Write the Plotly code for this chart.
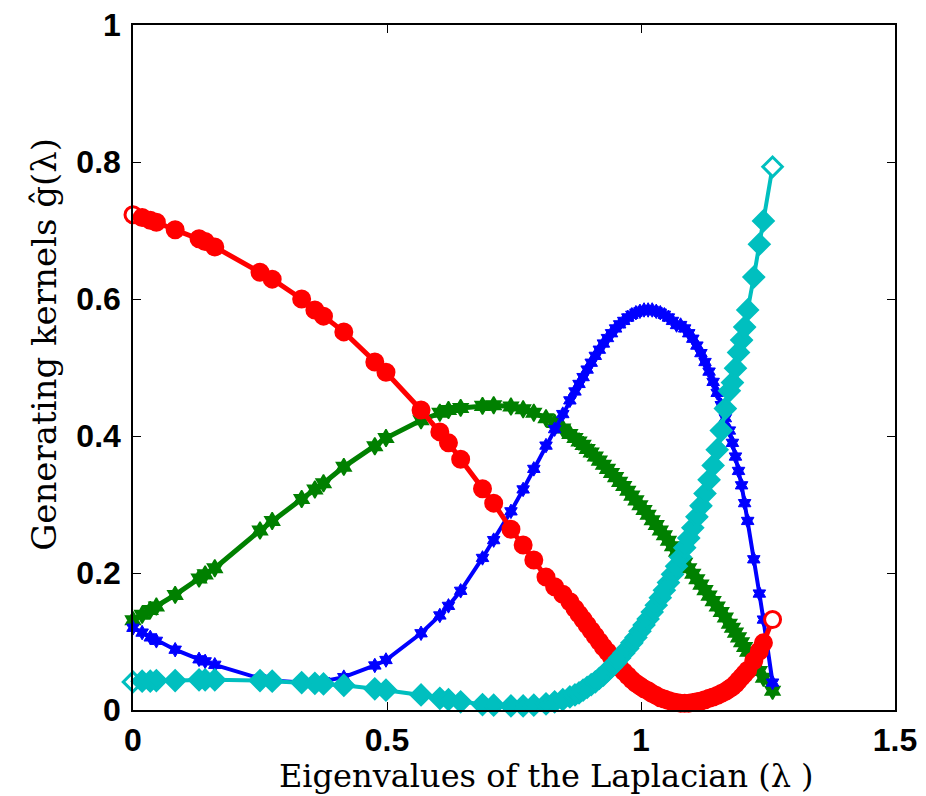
import plotly.graph_objects as go

# Eigenvalues of the Laplacian (sample positions shared by all kernels)
lam = [0.000, 0.018, 0.034, 0.046, 0.083, 0.130, 0.142, 0.161, 0.250, 0.274,
       0.332, 0.358, 0.375, 0.415, 0.476, 0.498, 0.567, 0.604, 0.621, 0.645,
       0.688, 0.710, 0.744, 0.768, 0.789, 0.813, 0.830, 0.846, 0.860,
       0.870, 0.878, 0.886, 0.894, 0.902, 0.910, 0.918, 0.926, 0.934, 0.942,
       0.950, 0.958, 0.966, 0.974, 0.982, 0.990, 0.998, 1.006, 1.014, 1.022,
       1.030, 1.038, 1.046, 1.054, 1.062, 1.070, 1.078, 1.086, 1.094, 1.102,
       1.110, 1.118, 1.126, 1.134, 1.142, 1.150, 1.158, 1.166, 1.174, 1.180,
       1.186, 1.192, 1.198, 1.204, 1.210, 1.222, 1.233, 1.241, 1.259]

red_vals = [0.723, 0.719, 0.715, 0.712, 0.701, 0.688, 0.684, 0.676, 0.639, 0.629,
            0.600, 0.584, 0.575, 0.552, 0.508, 0.493, 0.438, 0.406, 0.390, 0.366,
            0.323, 0.302, 0.264, 0.241, 0.219, 0.194, 0.180, 0.169, 0.158,
            0.148, 0.140, 0.132, 0.124, 0.116, 0.108, 0.100, 0.092, 0.085, 0.077,
            0.069, 0.062, 0.056, 0.050, 0.044, 0.039, 0.035, 0.031, 0.028, 0.024,
            0.021, 0.018, 0.016, 0.014, 0.012, 0.011, 0.010, 0.010, 0.010, 0.011,
            0.012, 0.013, 0.015, 0.017, 0.019, 0.021, 0.024, 0.027, 0.031, 0.034,
            0.038, 0.043, 0.048, 0.053, 0.058, 0.072, 0.086, 0.098, 0.132]

green_vals = [0.131, 0.139, 0.146, 0.151, 0.168, 0.192, 0.198, 0.207, 0.262, 0.276,
              0.308, 0.322, 0.331, 0.355, 0.385, 0.397, 0.423, 0.434, 0.438, 0.441,
              0.444, 0.445, 0.443, 0.439, 0.434, 0.426, 0.419, 0.411, 0.403,
              0.397, 0.392, 0.387, 0.381, 0.376, 0.370, 0.364, 0.358, 0.352, 0.346,
              0.340, 0.333, 0.327, 0.320, 0.313, 0.306, 0.299, 0.292, 0.285, 0.277,
              0.270, 0.262, 0.255, 0.247, 0.239, 0.231, 0.223, 0.215, 0.207, 0.199,
              0.191, 0.183, 0.175, 0.167, 0.159, 0.151, 0.143, 0.135, 0.126, 0.120,
              0.113, 0.106, 0.099, 0.092, 0.085, 0.070, 0.057, 0.047, 0.028]

blue_vals = [0.120, 0.113, 0.106, 0.101, 0.088, 0.074, 0.071, 0.066, 0.046, 0.043,
             0.040, 0.040, 0.042, 0.048, 0.065, 0.073, 0.112, 0.138, 0.152, 0.174,
             0.222, 0.248, 0.290, 0.322, 0.352, 0.386, 0.410, 0.432, 0.452,
             0.465, 0.476, 0.486, 0.497, 0.507, 0.517, 0.526, 0.535, 0.543, 0.550,
             0.557, 0.563, 0.568, 0.573, 0.577, 0.580, 0.582, 0.584, 0.584, 0.584,
             0.582, 0.580, 0.577, 0.573, 0.568, 0.562, 0.562, 0.557, 0.550, 0.542,
             0.532, 0.521, 0.508, 0.494, 0.479, 0.463, 0.445, 0.426, 0.408, 0.390,
             0.370, 0.349, 0.328, 0.302, 0.276, 0.220, 0.170, 0.132, 0.040]

cyan_vals = [0.041, 0.042, 0.042, 0.043, 0.043, 0.044, 0.044, 0.044, 0.043, 0.042,
             0.040, 0.039, 0.038, 0.036, 0.031, 0.029, 0.022, 0.017, 0.015, 0.012,
             0.008, 0.007, 0.006, 0.006, 0.007, 0.009, 0.012, 0.015, 0.019,
             0.022, 0.025, 0.029, 0.033, 0.037, 0.041, 0.046, 0.051, 0.057, 0.063,
             0.069, 0.076, 0.083, 0.090, 0.098, 0.106, 0.115, 0.124, 0.133, 0.143,
             0.153, 0.164, 0.175, 0.186, 0.198, 0.210, 0.223, 0.237, 0.251, 0.266,
             0.282, 0.298, 0.316, 0.336, 0.357, 0.380, 0.408, 0.440, 0.466, 0.478,
             0.499, 0.522, 0.540, 0.559, 0.584, 0.632, 0.680, 0.714, 0.793]

x_ticks = [0, 0.5, 1, 1.5]
x_tick_text = ["0", "0.5", "1", "1.5"]
y_ticks = [0, 0.2, 0.4, 0.6, 0.8, 1]
y_tick_text = ["0", "0.2", "0.4", "0.6", "0.8", "1"]

x_title = "Eigenvalues of the Laplacian (λ )"
y_title = "Generating kernels ĝ(λ)"

n = len(lam)


def end_open(color):
    return ["white"] + [color] * (n - 2) + ["white"]


fig = go.Figure()

fig.add_trace(go.Scatter(
    x=lam, y=green_vals, mode="lines+markers", cliponaxis=False,
    line=dict(color="#008000", width=5),
    marker=dict(symbol="hexagram", size=13, color="#008000",
                line=dict(color="#008000", width=1.5)),
    showlegend=False))

fig.add_trace(go.Scatter(
    x=lam, y=blue_vals, mode="lines+markers", cliponaxis=False,
    line=dict(color="#0000FF", width=4),
    marker=dict(symbol="hexagram", size=11, color="#0000FF",
                line=dict(color="#0000FF", width=1)),
    showlegend=False))

fig.add_trace(go.Scatter(
    x=lam, y=red_vals, mode="lines+markers", cliponaxis=False,
    line=dict(color="#FF0000", width=5),
    marker=dict(symbol="circle", size=16, color=end_open("#FF0000"),
                line=dict(color="#FF0000", width=3)),
    showlegend=False))

fig.add_trace(go.Scatter(
    x=lam, y=cyan_vals, mode="lines+markers", cliponaxis=False,
    line=dict(color="#00BFBF", width=4),
    marker=dict(symbol="diamond", size=15, color=end_open("#00BFBF"),
                line=dict(color="#00BFBF", width=3)),
    showlegend=False))

axis_common = dict(
    showgrid=False, zeroline=False, showline=True, linecolor="black",
    linewidth=1.5, mirror="ticks", ticks="inside", ticklen=8,
    tickcolor="black", tickwidth=1, automargin=False,
    ticklabeloverflow="allow",
    tickfont=dict(family="Liberation Sans, Arial, sans-serif", size=32,
                  color="black", weight="bold"),
)

fig.update_xaxes(range=[0, 1.5], tickvals=x_ticks, ticktext=x_tick_text,
                 ticklabelstandoff=1, **axis_common)
fig.update_yaxes(range=[0, 1], tickvals=y_ticks, ticktext=y_tick_text,
                 ticklabelstandoff=4, **axis_common)

fig.add_annotation(text=x_title, xref="paper", yref="paper", x=0.542, y=-0.097,
                   xanchor="center", yanchor="middle", showarrow=False,
                   font=dict(family="DejaVu Serif, serif", size=32, color="black"))
fig.add_annotation(text=y_title, xref="paper", yref="paper", x=-0.116, y=0.534,
                   xanchor="center", yanchor="middle", textangle=-90, showarrow=False,
                   font=dict(family="DejaVu Serif, serif", size=34, color="black"))

# the page body adds a small margin, so the figure is sized to fill the rest
fig.update_layout(
    width=918, height=788,
    margin=dict(l=125, r=31, t=17, b=86),
    plot_bgcolor="white", paper_bgcolor="white",
)

fig.write_html("out.html")
